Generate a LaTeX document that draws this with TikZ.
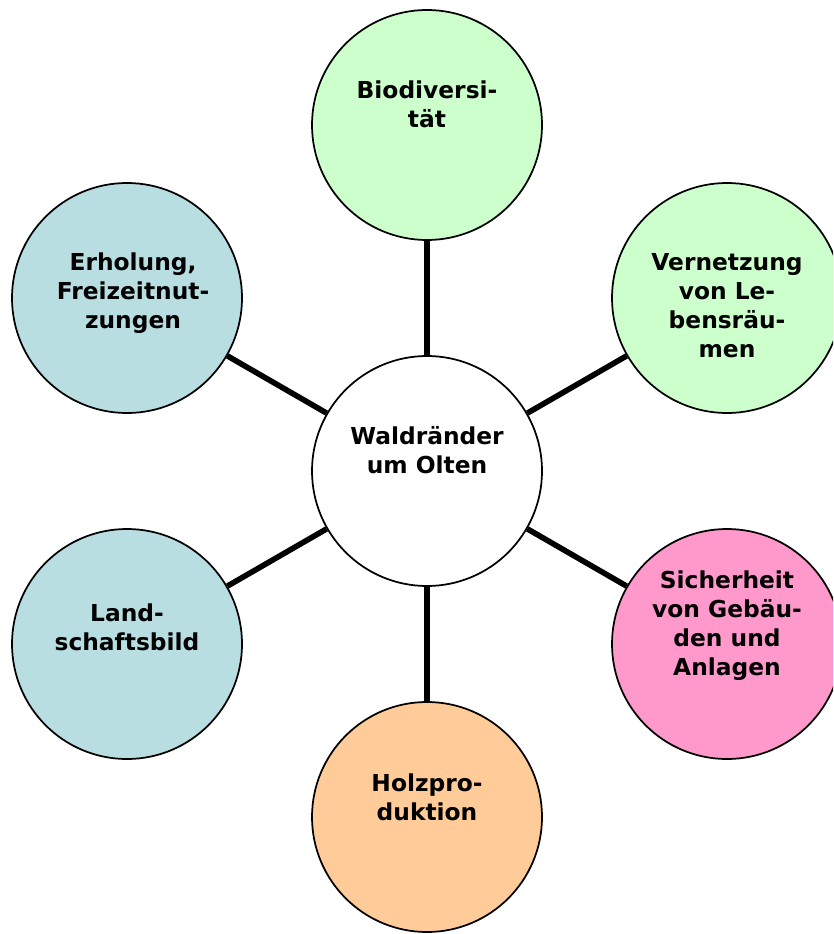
\documentclass[tikz,border=0pt]{standalone}
\usepackage{fontspec}
\setmainfont{DejaVu Sans}
\definecolor{gruen}{RGB}{204,255,204}
\definecolor{blau}{RGB}{184,222,226}
\definecolor{rosa}{RGB}{255,153,204}
\definecolor{apricot}{RGB}{255,204,153}

\begin{document}
\begin{tikzpicture}[x=0.75pt,y=0.75pt,
	kreis/.style={circle, draw, line width=1.3pt, minimum size=172.5pt, inner sep=0pt},
	txt/.style={align=center, font=\fontsize{17.5}{21.75}\selectfont\bfseries},
	link/.style={line width=4.2pt}]
	\clip (0,0) rectangle (833,-934);
	
	% Kreise
	\node[kreis, fill=white] (hub) at (427,-471) {};
	\node[kreis, fill=gruen] (bio) at (427,-125) {};
	\node[kreis, fill=gruen] (vern) at (727,-298) {};
	\node[kreis, fill=rosa] (sich) at (727,-644) {};
	\node[kreis, fill=apricot] (holz) at (427,-817) {};
	\node[kreis, fill=blau] (land) at (127,-644) {};
	\node[kreis, fill=blau] (erh) at (127,-298) {};
	
	% Verbindungen
	\draw[link] (hub) -- (bio);
	\draw[link] (hub) -- (vern);
	\draw[link] (hub) -- (sich);
	\draw[link] (hub) -- (holz);
	\draw[link] (hub) -- (land);
	\draw[link] (hub) -- (erh);
	
	% Texte
	\node[txt] (hub-t) at (427,-450) {Waldränder\\um Olten};
	\node[txt] (bio-t) at (427,-104) {Biodiversi-\\tät};
	\node[txt] (vern-t) at (727,-306) {Vernetzung\\von Le-\\bensräu-\\men};
	\node[txt] (sich-t) at (727,-626) {Sicherheit\\von Gebäu-\\den und\\Anlagen};
	\node[txt] (holz-t) at (427,-797) {Holzpro-\\duktion};
	\node[txt] (land-t) at (127,-627) {Land-\\schaftsbild};
	\node[txt] (erh-t) at (133,-293) {Erholung,\\Freizeitnut-\\zungen};
\end{tikzpicture}
\end{document}
